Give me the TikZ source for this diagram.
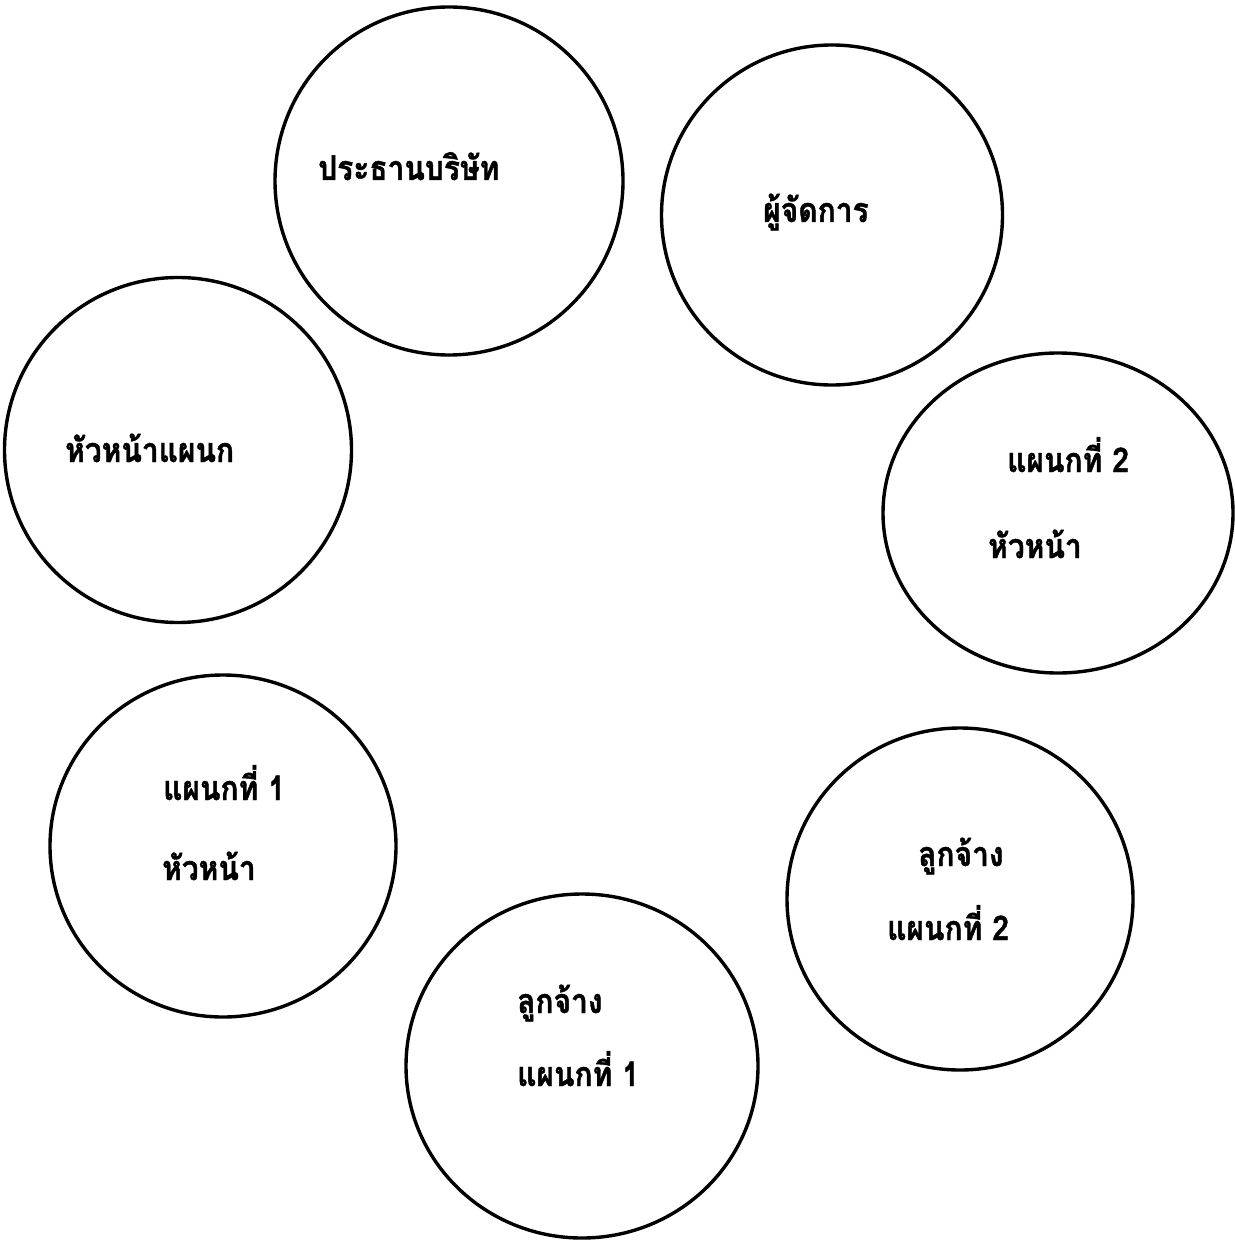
\documentclass[tikz,border=0pt]{standalone}
\usepackage{fontspec}
\newfontfamily\thaifont[Script=Thai,FakeStretch=0.88,BoldFeatures={FakeBold=1.2}]{Loma}
\usetikzlibrary{shapes.geometric}
\tikzset{
  ring/.style={draw=black, line width=3.4pt, ellipse, inner sep=0pt, outer sep=0pt},
  lbl/.style={anchor=base west, inner sep=0pt, font=\thaifont\bfseries\fontsize{34pt}{40pt}\selectfont}
}
\begin{document}
\begin{tikzpicture}[x=1pt,y=-1pt]
\useasboundingbox (0,0) rectangle (1234,1241);
% circles
\node[ring, minimum width=348pt, minimum height=348pt] (c1) at (449,181) {};
\node[ring, minimum width=341pt, minimum height=340pt] (c2) at (832,215) {};
\node[ring, minimum width=347pt, minimum height=345pt] (c3) at (178,450) {};
\node[ring, minimum width=350pt, minimum height=320pt] (c4) at (1058,513) {};
\node[ring, minimum width=346pt, minimum height=342pt] (c5) at (223,846) {};
\node[ring, minimum width=346pt, minimum height=342pt] (c6) at (960,899) {};
\node[ring, minimum width=352pt, minimum height=344pt] (c7) at (582,1066) {};
% labels
\node[lbl] (t1) at (318,180) {ประธานบริษัท};
\node[lbl] (t2) at (763,222) {ผู้จัดการ};
\node[lbl] (t3) at (65,462) {หัวหน้าแผนก};
\node[lbl] (t4a) at (1007,472) {แผนกที่ 2};
\node[lbl] (t4b) at (988,558) {หัวหน้า};
\node[lbl] (t5a) at (163,800) {แผนกที่ 1};
\node[lbl] (t5b) at (162,880) {หัวหน้า};
\node[lbl] (t6a) at (918,866) {ลูกจ้าง};
\node[lbl] (t6b) at (887,940) {แผนกที่ 2};
\node[lbl] (t7a) at (517,1013) {ลูกจ้าง};
\node[lbl] (t7b) at (517,1086) {แผนกที่ 1};
\end{tikzpicture}
\end{document}
